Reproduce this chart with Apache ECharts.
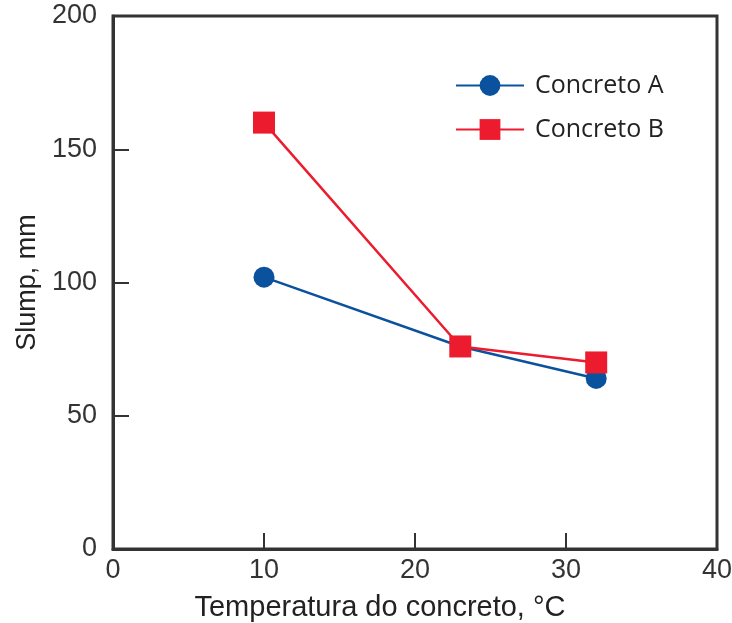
<!DOCTYPE html>
<html>
<head>
<meta charset="utf-8">
<script src="https://cdn.jsdelivr.net/npm/echarts@6/dist/echarts.min.js"></script>
<style>
  html, body { margin: 0; padding: 0; background: #fff; }
  #chart { width: 732px; height: 623px; }
</style>
</head>
<body>
<div id="chart"></div>
<script>
// Slump versus concrete temperature for two mixes
const temperatures = [10, 23, 32];
const slumpA = [102, 76, 64];
const slumpB = [160, 76, 70];
const seriesNames = ['Concreto A', 'Concreto B'];
const xTicks = [0, 10, 20, 30, 40];
const yTicks = [0, 50, 100, 150, 200];

const pairs = (xs, ys) => xs.map((x, i) => [x, ys[i]]);

const axisColor = '#333';
const chart = echarts.init(document.getElementById('chart'));
chart.setOption({
  animation: false,
  grid: {
    left: 113, right: 15, top: 16, bottom: 74,
    outerBoundsMode: 'none', containLabel: false,
    show: true, borderColor: axisColor, borderWidth: 3
  },
  legend: {
    left: 455, top: 73, padding: 0, orient: 'vertical', itemGap: 19,
    itemWidth: 68, itemHeight: 26,
    textStyle: { fontFamily: 'Open Sans', fontSize: 25, color: '#222', padding: [0, 0, 0, 6] },
    data: seriesNames
  },
  xAxis: {
    type: 'value', min: xTicks[0], max: xTicks[xTicks.length - 1], interval: 10,
    name: 'Temperatura do concreto, °C',
    nameLocation: 'middle', nameGap: 44,
    nameTextStyle: {
      fontFamily: 'Liberation Sans', fontSize: 29, color: '#222',
      padding: [0, 70, 0, 0]
    },
    axisLine: { lineStyle: { color: axisColor, width: 3 } },
    axisTick: { inside: true, length: 16, lineStyle: { color: axisColor, width: 2 } },
    axisLabel: { margin: 8, fontFamily: 'Liberation Sans', fontSize: 27, color: '#333' },
    splitLine: { show: false }
  },
  yAxis: {
    type: 'value', min: yTicks[0], max: yTicks[yTicks.length - 1], interval: 50,
    name: 'Slump, mm',
    nameLocation: 'middle', nameGap: 70, nameRotate: 90,
    nameTextStyle: { fontFamily: 'Liberation Sans', fontSize: 27, color: '#222' },
    axisLine: { lineStyle: { color: axisColor, width: 3 } },
    axisTick: { inside: true, length: 16, lineStyle: { color: axisColor, width: 2 } },
    axisLabel: { margin: 16, fontFamily: 'Liberation Sans', fontSize: 27, color: '#333' },
    splitLine: { show: false }
  },
  series: [
    {
      name: seriesNames[0], type: 'line', data: pairs(temperatures, slumpA),
      symbol: 'circle', symbolSize: 21, z: 2,
      itemStyle: { color: '#0b529e' },
      lineStyle: { color: '#0b529e', width: 2.5 }
    },
    {
      name: seriesNames[1], type: 'line', data: pairs(temperatures, slumpB),
      symbol: 'rect', symbolSize: 22, z: 3,
      itemStyle: { color: '#ec1b2e' },
      lineStyle: { color: '#ec1b2e', width: 2.5 }
    }
  ]
});
</script>
</body>
</html>
